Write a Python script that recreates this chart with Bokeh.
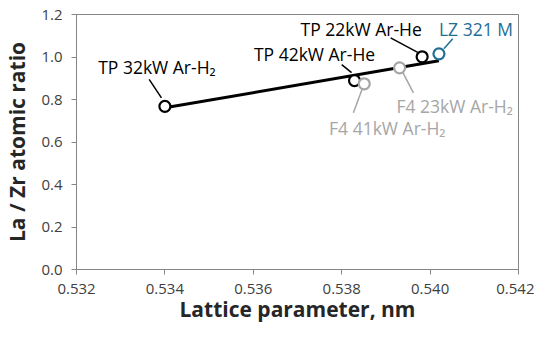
import numpy as np
from bokeh.plotting import figure
from bokeh.models import ColumnDataSource, FixedTicker, NumeralTickFormatter, Range1d
from bokeh.core.properties import value
from bokeh.embed import file_html
from bokeh.resources import INLINE

# ---- data ----
names = ["TP 32kW Ar-H₂", "TP 42kW Ar-He", "F4 41kW Ar-H₂", "F4 23kW Ar-H₂", "TP 22kW Ar-He", "LZ 321 M"]
lattice = [0.5340, 0.53829, 0.53851, 0.53931, 0.53982, 0.54020]
la_zr = [0.768, 0.889, 0.874, 0.949, 1.001, 1.015]
colors = ["#000000", "#000000", "#A6A6A6", "#A6A6A6", "#000000", "#1F6E96"]
trend_x = [0.5340, 0.5402]
trend_y = [0.761, 0.982]
x_ticks = [0.532, 0.534, 0.536, 0.538, 0.540, 0.542]
y_ticks = [0.0, 0.2, 0.4, 0.6, 0.8, 1.0, 1.2]

# label placement (pixel offsets from each point)
lab_dx = [-8, -40, 23, 55, -61, 37]
lab_dy = [39, 27, -44, -38, 28, 25]
lead_sx = [-16, -13, -2, 3, -32, 14]
lead_sy = [27, 16, -5, -4, 19, 15]
lead_ex = [-3.5, -3, -11, 14, -4.5, 5]
lead_ey = [8.5, 8, -29, -25, 4.5, 5]

FONT = "Open Sans"
W, H = 534, 328
L, R, T, B = 69, 16, 14, 59
fw, fh = W - L - R, H - T - B
x0, x1, y0, y1 = 0.532, 0.542, 0.0, 1.2
sx = (x1 - x0) / fw
sy = (y1 - y0) / fh

p = figure(width=W, height=H, output_backend="svg", toolbar_location=None,
           x_range=Range1d(x0, x1), y_range=Range1d(y0, y1),
           min_border_left=L, min_border_right=R, min_border_top=T, min_border_bottom=B)
p.background_fill_color = "white"
p.border_fill_color = "white"
p.outline_line_color = "#868686"
p.outline_line_width = 1
p.xgrid.visible = False
p.ygrid.visible = False

for ax in (p.xaxis[0], p.yaxis[0]):
    ax.axis_line_color = "#868686"
    ax.major_tick_line_color = "#868686"
    ax.minor_tick_line_color = None
    ax.major_tick_in = 0
    ax.major_tick_out = 5
    ax.major_label_text_font = FONT
    ax.major_label_text_font_size = "15px"
    ax.major_label_text_color = "#404040"
    ax.axis_label_text_font = FONT
    ax.axis_label_text_font_size = "21px"
    ax.axis_label_text_font_style = "bold"
    ax.axis_label_text_color = "#262626"

p.xaxis.ticker = FixedTicker(ticks=x_ticks)
p.yaxis.ticker = FixedTicker(ticks=y_ticks)
p.xaxis.formatter = NumeralTickFormatter(format="0.000")
p.yaxis.formatter = NumeralTickFormatter(format="0.0")
p.xaxis.axis_label = "Lattice parameter, nm"
p.yaxis.axis_label = "La / Zr atomic ratio"
p.xaxis.major_label_standoff = 9
p.yaxis.major_label_standoff = 9
p.xaxis.axis_label_standoff = -2
p.yaxis.axis_label_standoff = 7

# trend line
p.line(trend_x, trend_y, line_color="black", line_width=3)

# leader lines
lx = np.array(lattice)
ly = np.array(la_zr)
seg = ColumnDataSource(dict(
    x0=lx + np.array(lead_sx) * sx, y0=ly + np.array(lead_sy) * sy,
    x1=lx + np.array(lead_ex) * sx, y1=ly + np.array(lead_ey) * sy,
    c=colors))
p.segment("x0", "y0", "x1", "y1", source=seg, line_color="c", line_width=1.5)

# points
src = ColumnDataSource(dict(x=lattice, y=la_zr, c=colors, name=names,
                            dx=lab_dx, dy=[-d for d in lab_dy]))
p.scatter("x", "y", source=src, size=11, marker="circle", fill_color="white",
          line_color="c", line_width=2.2)

# labels
p.text("x", "y", text="name", source=src, x_offset="dx", y_offset="dy",
       text_color="c", text_font=value(FONT), text_font_size="17.5px",
       text_align="center", text_baseline="middle")

open("out.html", "w").write(file_html(p, INLINE))
